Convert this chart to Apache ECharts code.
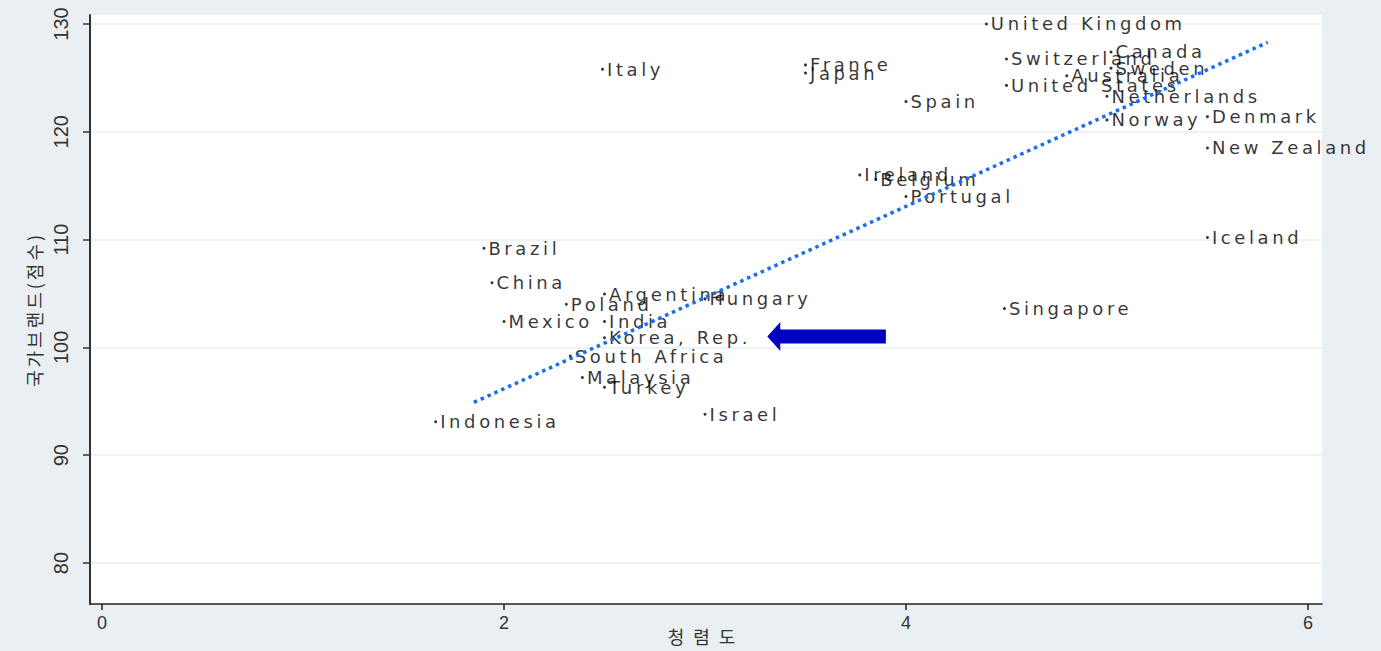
<!DOCTYPE html>
<html><head><meta charset="utf-8">
<script src="https://cdn.jsdelivr.net/npm/echarts@6/dist/echarts.min.js"></script>
<style>
html,body{margin:0;padding:0;background:#E9EFF2;}
#chart{width:1381px;height:651px;}
#chart text[style*="DejaVu"]{letter-spacing:3.6px;}
#chart text[style*="CJK KR"]{letter-spacing:3px;}
#chart text[style*="CJK SC"]{letter-spacing:9px;}
</style></head><body><div id="chart"></div>
<script>
const countries = ['United Kingdom','Italy','France','Japan','Switzerland','Canada','Sweden','Australia','United States','Netherlands','Norway','Denmark','New Zealand','Spain','Ireland','Belgium','Portugal','Brazil','China','Argentina','Poland','Hungary','Mexico','India','Korea, Rep.','South Africa','Malaysia','Turkey','Israel','Indonesia','Iceland','Singapore'];
const integrity = [4.40,2.49,3.50,3.50,4.50,5.02,5.02,4.80,4.50,5.00,5.00,5.50,5.50,4.00,3.77,3.85,4.00,1.90,1.94,2.50,2.31,3.00,2.00,2.50,2.50,2.33,2.39,2.50,3.00,1.66,5.50,4.49];
const brandScore = [130.0,125.8,126.2,125.45,126.75,127.4,125.9,125.2,124.3,123.3,121.1,121.4,118.5,122.8,116.0,115.6,114.0,109.2,106.0,104.95,104.0,104.5,102.4,102.4,100.9,99.2,97.2,96.3,93.8,93.1,110.2,103.6];
const fitX = [1.85, 5.80];
const fitY = [94.9, 128.3];
const xTicks = [0,2,4,6];
const yTicks = [80,90,100,110,120,130];
const arrowTip = [3.31, 101.0];
const arrowTail = [3.90, 101.0];

const chart = echarts.init(document.getElementById('chart'), null, {renderer:'svg'});
const pts = countries.map((c,i)=>[integrity[i], brandScore[i], c]);
const fit = fitX.map((x,i)=>[x, fitY[i]]);
const axisFont = 'Liberation Sans';
chart.setOption({
  animation:false,
  backgroundColor:'#E9EFF2',
  grid:{left:90,right:59,top:15,bottom:47,show:true,backgroundColor:'#ffffff',borderWidth:0,outerBoundsMode:'none'},
  xAxis:{type:'value',min:-0.06,max:6.07,
    name:'청렴도',nameLocation:'middle',nameGap:23,nameMoveOverlap:false,
    nameTextStyle:{fontFamily:'Noto Sans CJK SC',fontSize:18,color:'#333'},
    axisLine:{show:true,onZero:false,lineStyle:{color:'#222',width:1.5}},
    axisTick:{show:true,length:6,customValues:xTicks,lineStyle:{color:'#222',width:1.5}},
    axisLabel:{customValues:xTicks,margin:10,fontSize:18,color:'#333',fontFamily:axisFont},
    splitLine:{show:false}},
  yAxis:{type:'value',min:76.2,max:130.83,
    name:'국가브랜드(점수)',nameLocation:'middle',nameGap:47,nameRotate:90,nameMoveOverlap:false,
    nameTextStyle:{fontFamily:'Noto Sans CJK KR',fontSize:18,color:'#333'},
    axisLine:{show:true,onZero:false,lineStyle:{color:'#333',width:2}},
    axisTick:{show:true,length:7,customValues:yTicks,lineStyle:{color:'#333',width:1.5}},
    axisLabel:{customValues:yTicks,rotate:90,margin:19,fontSize:20,color:'#333',fontFamily:axisFont},
    splitLine:{show:true,lineStyle:{color:'#E6EFF1',width:1.5}}},
  series:[
    {type:'scatter',data:pts,symbol:'circle',symbolSize:3,itemStyle:{color:'#000'},
     label:{show:true,position:'right',distance:3,formatter:p=>p.data[2],fontSize:18,fontFamily:'DejaVu Sans',color:'#000'},
     z:3},
    {type:'line',data:fit,symbol:'none',lineStyle:{color:'#1A6DF0',width:3.5,type:[3.5,4]},z:4}
  ]
});
const p1 = chart.convertToPixel({gridIndex:0}, arrowTip);
const p2 = chart.convertToPixel({gridIndex:0}, arrowTail);
const headLen=13, headHalf=14.5, shaftHalf=7;
chart.setOption({graphic:[{type:'polygon',z:100,shape:{points:[
  [p1[0],p1[1]],[p1[0]+headLen,p1[1]-headHalf],[p1[0]+headLen,p1[1]-shaftHalf],
  [p2[0],p2[1]-shaftHalf],[p2[0],p2[1]+shaftHalf],[p1[0]+headLen,p1[1]+shaftHalf],
  [p1[0]+headLen,p1[1]+headHalf]]},style:{fill:'#0000C0'}}]});
</script></body></html>
